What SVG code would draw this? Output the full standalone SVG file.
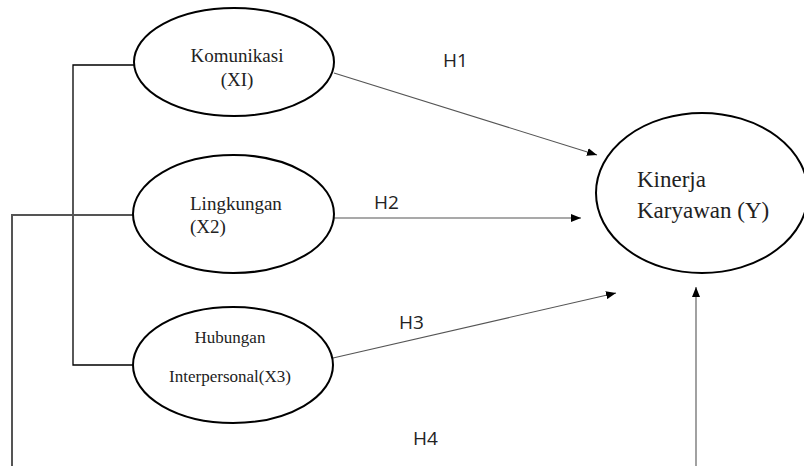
<svg xmlns="http://www.w3.org/2000/svg" width="804" height="466" viewBox="0 0 804 466">
<style>
.node ellipse{fill:#fff;stroke:#000;stroke-width:2}
.t{font-family:"Liberation Serif","Times New Roman",serif;fill:#222}
.h{font-family:"Open Sans","Liberation Sans",sans-serif;font-size:19px;fill:#222}
.bk{stroke:#000;stroke-width:1.3;fill:none}
.ar{stroke:#555;stroke-width:1.1;fill:none;marker-end:url(#ah)}
</style>
<defs>
<marker id="ah" viewBox="0 0 10 8" refX="10" refY="4" markerWidth="10" markerHeight="8" markerUnits="userSpaceOnUse" orient="auto">
<path d="M0,0 L10,4 L0,8 Z" fill="#000"/>
</marker>
</defs>
<rect width="804" height="466" fill="#fff"/>
<g id="connectors">
<polyline class="bk" points="145,65 73,65 73,365 134,365"/>
<polyline class="bk" points="133,215 12,215 12,466" style="stroke:#555;stroke-width:2"/>
<line class="ar" x1="334" y1="73" x2="597" y2="155"/>
<line class="ar" x1="334" y1="218" x2="581" y2="218"/>
<line class="ar" x1="333" y1="358" x2="616" y2="293"/>
<line class="ar" x1="696" y1="466" x2="696" y2="287"/>
</g>
<g id="komunikasi" class="node">
<ellipse cx="234" cy="62" rx="100" ry="54"/>
<text class="t" x="237" y="62" font-size="19" text-anchor="middle">Komunikasi</text>
<text class="t" x="237" y="86" font-size="19" text-anchor="middle">(XI)</text>
</g>
<g id="lingkungan" class="node">
<ellipse cx="233.5" cy="214" rx="100.5" ry="59"/>
<text class="t" x="190" y="210" font-size="19">Lingkungan</text>
<text class="t" x="190" y="233" font-size="19">(X2)</text>
</g>
<g id="hubungan" class="node">
<ellipse cx="233" cy="365" rx="100" ry="58"/>
<text class="t" x="230" y="343" font-size="17" text-anchor="middle">Hubungan</text>
<text class="t" x="230" y="382" font-size="17" text-anchor="middle">Interpersonal(X3)</text>
</g>
<g id="kinerja" class="node">
<ellipse cx="702" cy="193" rx="106" ry="80"/>
<text class="t" x="637" y="187" font-size="23">Kinerja</text>
<text class="t" x="637" y="218" font-size="23">Karyawan (Y)</text>
</g>
<g id="labels">
<text class="h" x="443" y="67">H1</text>
<text class="h" x="374" y="209">H2</text>
<text class="h" x="399" y="329">H3</text>
<text class="h" x="413" y="445">H4</text>
</g>
</svg>
